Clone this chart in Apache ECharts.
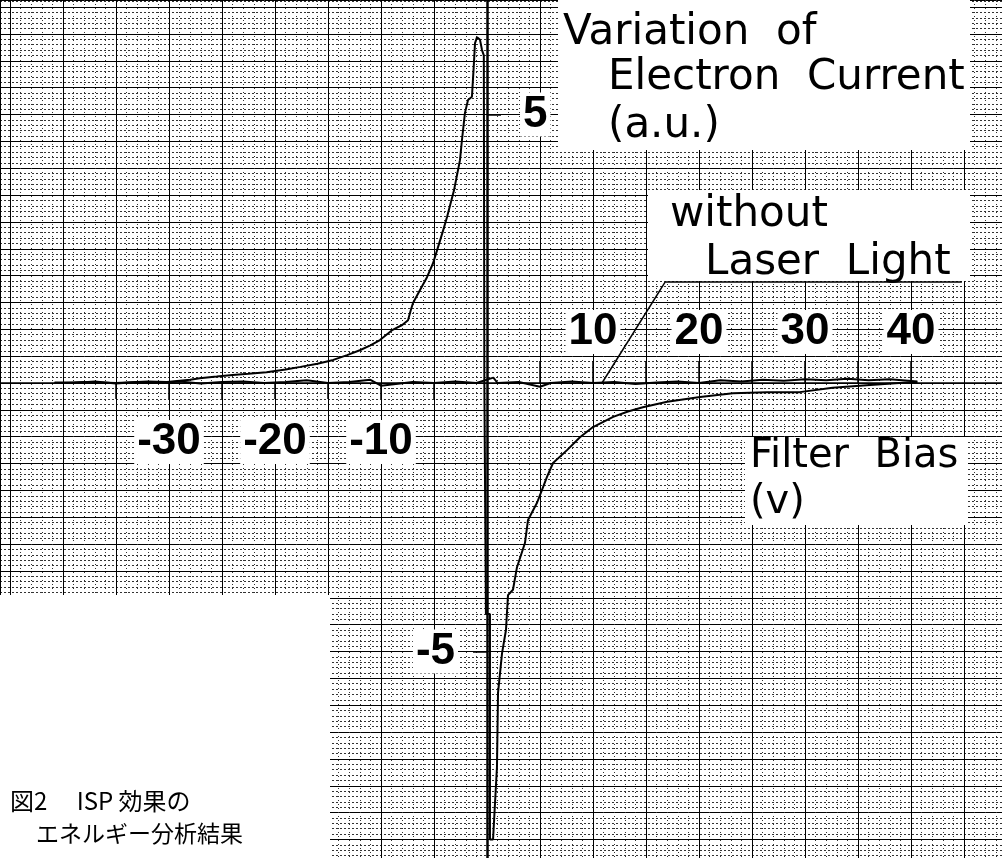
<!DOCTYPE html>
<html>
<head>
<meta charset="UTF-8">
<title>ISP効果のエネルギー分析結果</title>
<script src="https://cdn.jsdelivr.net/npm/echarts@6/dist/echarts.min.js"></script>
<style>
  html, body { margin: 0; padding: 0; background: #fff; }
  #main { width: 1002px; height: 858px; }
</style>
</head>
<body>
<div id="main"></div>
<script>
// filter bias (V) / current (a.u.) : trace with laser light
var biasOn = [-40.8, -38, -35, -32, -30.2, -28, -27.1, -25.5, -24, -22.5, -20.8, -19, -17.6, -16, -14.5, -13.2, -12, -11,
  -10.1, -8.9, -8, -7.45, -7.2, -6.98, -6.32, -5.66, -5.09, -4.62, -4.2, -3.77, -3.1, -2.55, -2.36, -2.08, -1.79, -1.42,
  -1.25, -1.13, -0.94, -0.66, -0.47, -0.3, -0.25, -0.1, 0.28, 0.28, 0.57, 0.94, 1.04, 1.42, 1.79, 1.98, 2.45, 2.83, 3.58,
  3.87, 4.72, 5.19, 5.66, 6.23, 7.55, 8.77, 10.0, 11.9, 13.3, 14.7, 17.0, 20.1, 23.2, 26.4, 29.5, 32.6, 35.8, 38.9, 40.6];
var currentOn = [0.0, 0.02, 0.0, 0.03, 0.02, 0.06, 0.09, 0.12, 0.15, 0.17, 0.2, 0.25, 0.3, 0.36, 0.43, 0.52, 0.61, 0.7,
  0.8, 0.99, 1.08, 1.17, 1.35, 1.49, 1.73, 1.97, 2.23, 2.53, 2.8, 3.09, 3.6, 4.15, 4.53, 5.03, 5.27, 5.33,
  5.9, 6.33, 6.44, 6.39, 6.2, 6.1, 0.0, -4.3, -4.3, -8.5, -8.5, -7.15, -5.77, -5.03, -4.6, -3.95, -3.85, -3.43, -2.98,
  -2.55, -2.23, -1.99, -1.75, -1.49, -1.25, -1.01, -0.82, -0.63, -0.53, -0.45, -0.35, -0.26, -0.19, -0.17, -0.17, -0.09, -0.04, 0.0, 0.02];

// trace without laser light
var biasOff = [-40.8, -39, -37, -35, -33, -31, -29, -27, -25, -23, -21, -19, -17, -15, -13, -11, -10, -9, -7, -5, -3, -1,
  0.6, 1, 3, 5, 6, 8, 10, 12, 14, 16, 18, 20, 22, 24, 26, 28, 30, 32, 34, 36, 38, 40.6];
var currentOff = [0.01, 0.0, 0.03, -0.01, 0.02, 0.0, 0.03, -0.01, 0.02, 0.03, 0.0, 0.02, 0.05, 0.0, 0.02, 0.06, -0.05, -0.03,
  0.02, 0.0, 0.03, 0.0, 0.1, 0.0, 0.02, -0.07, 0.0, 0.03, 0.0, 0.02, -0.02, 0.01, 0.03, 0.0, 0.05, 0.03, 0.06, 0.04,
  0.07, 0.05, 0.08, 0.05, 0.07, 0.03];

var xTickLabelsPos = [10, 20, 30, 40];
var xTickLabelsNeg = [-30, -20, -10];
var xTicksPos = [5, 10, 15, 20, 25, 30, 35, 40];
var xTicksNeg = [-35, -30, -25, -20, -15, -10, -5];
var yTickLabelsPos = [5];
var yTickLabelsNeg = [-5];

// pointer from the label to the trace without laser light
var pointer = [[10.85, 0], [16.8, 1.88], [44.8, 1.88]];

// layout: canvas size, origin pixel and pixels per unit
var W = 1002, H = 858;
var X0 = 487, SX = 10.6, Y0 = 383, SY = 53.7;
var xMin = -X0 / SX, xMax = (W - X0) / SX;
var yMin = -(H - Y0) / SY, yMax = Y0 / SY;

var numFont = 'Liberation Sans, Arial, sans-serif';
var txtFont = 'DejaVu Sans, sans-serif';

function zip(a, b) { return a.map(function (v, i) { return [v, b[i]]; }); }

var chart = echarts.init(document.getElementById('main'), null, { renderer: 'canvas' });

var labelBox = {
  fontFamily: numFont, fontSize: 44, fontWeight: 'bold', color: '#000',
  backgroundColor: '#fff', padding: [0, 3]
};

function textTitle(text, left, top, size, family) {
  return {
    text: text, left: left, top: top, padding: 0,
    textStyle: { fontFamily: family || txtFont, fontSize: size, fontWeight: 'normal', color: '#000' }
  };
}

function labelAxis(pos, offset, ticks, labels, tickLen, margin, isX) {
  return {
    type: 'value', position: pos, offset: offset, z: 3,
    min: isX ? xMin : yMin, max: isX ? xMax : yMax,
    axisLine: { show: false, onZero: false },
    axisTick: { show: true, length: tickLen, customValues: ticks, lineStyle: { color: '#000', width: 1.5 } },
    axisLabel: Object.assign({ customValues: labels, margin: margin }, labelBox),
    splitLine: { show: false }
  };
}

var option = {
  animation: false,
  backgroundColor: '#fff',
  title: [
    textTitle('Variation  of', 563, 12, 42),
    textTitle('Electron  Current', 608, 57, 42),
    textTitle('(a.u.)', 608, 105, 42),
    textTitle('without', 670, 194, 42),
    textTitle('Laser  Light', 705, 242, 42),
    textTitle('Filter  Bias', 750, 437, 40),
    textTitle('(v)', 750, 483, 40),
    textTitle('図2　 ISP 効果の', 10, 789, 24, 'Noto Sans CJK JP'),
    textTitle('エネルギー分析結果', 36, 822, 23, 'Noto Sans CJK JP')
  ],
  graphic: [
    // parts of the page with no graph paper
    { type: 'rect', z: 1, shape: { x: 0, y: 595, width: 330, height: 263 }, style: { fill: '#fff' } },
    { type: 'rect', z: 1, shape: { x: 558, y: 0, width: 412, height: 150 }, style: { fill: '#fff' } },
    { type: 'rect', z: 1, shape: { x: 648, y: 190, width: 322, height: 91 }, style: { fill: '#fff' } },
    { type: 'rect', z: 1, shape: { x: 745, y: 437, width: 223, height: 88 }, style: { fill: '#fff' } }
  ],
  grid: { left: 0, right: 0, top: 0, bottom: 0 },
  xAxis: [
    {
      type: 'value', min: xMin, max: xMax, minInterval: 5, maxInterval: 5,
      axisLine: { onZero: true, lineStyle: { color: '#000', width: 1.5 } },
      axisTick: { show: false }, axisLabel: { show: false },
      splitLine: { show: true, lineStyle: { color: '#000', width: 1 } },
      minorTick: { show: false, splitNumber: 5 },
      minorSplitLine: { show: true, lineStyle: { color: '#333', width: 1, type: [1, 3] } }
    },
    labelAxis('top', -Y0, xTicksPos, xTickLabelsPos, 22, 29, true),
    labelAxis('bottom', Y0 - H, xTicksNeg, xTickLabelsNeg, 16, 37, true)
  ],
  yAxis: [
    {
      type: 'value', min: yMin, max: yMax, minInterval: 0.5, maxInterval: 0.5,
      axisLine: { onZero: true, lineStyle: { color: '#000', width: 2.5 } },
      axisTick: { show: false }, axisLabel: { show: false },
      splitLine: { show: true, lineStyle: { color: '#000', width: 1 } },
      minorTick: { show: false, splitNumber: 5 },
      minorSplitLine: { show: true, lineStyle: { color: '#333', width: 1, type: [2, 2] } }
    },
    labelAxis('right', X0 - W, yTickLabelsPos, yTickLabelsPos, 14, 33, false),
    labelAxis('left', -X0, yTickLabelsNeg, yTickLabelsNeg, 14, 29, false)
  ],
  series: [
    {
      name: 'without Laser Light', type: 'line', symbol: 'none', z: 4,
      data: zip(biasOff, currentOff),
      lineStyle: { color: '#000', width: 2 },
      markLine: {
        silent: true, symbol: 'none', label: { show: false },
        lineStyle: { color: '#000', width: 1.5, type: 'solid' },
        data: [
          [{ coord: pointer[0] }, { coord: pointer[1] }],
          [{ coord: pointer[1] }, { coord: pointer[2] }]
        ]
      }
    },
    {
      name: 'with Laser Light', type: 'line', symbol: 'none', z: 4,
      data: zip(biasOn, currentOn),
      lineStyle: { color: '#000', width: 2 }
    }
  ]
};

chart.setOption(option);
</script>
</body>
</html>
